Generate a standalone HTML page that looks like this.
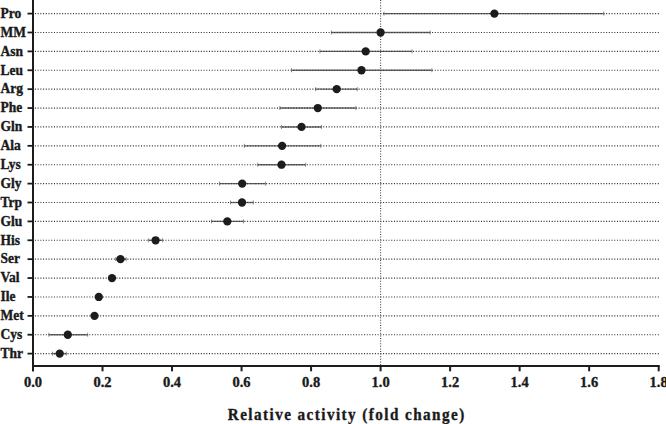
<!DOCTYPE html>
<html><head><meta charset="utf-8"><style>
html,body{margin:0;padding:0;background:#fff;width:666px;height:424px;overflow:hidden;}
svg{display:block;}
text{font-family:"Liberation Serif",serif;font-weight:bold;fill:#1a1a1a;stroke:#1a1a1a;stroke-width:0.35px;}
.yl{font-size:13.5px;}
.xl{font-size:14.5px;}
.tt{font-size:16.5px;letter-spacing:1.56px;}
</style></head><body>
<svg width="666" height="424" viewBox="0 0 666 424">
<line x1="384.00" y1="13.60" x2="603.80" y2="13.60" stroke="#6a6a6a" stroke-width="1.4"/>
<line x1="384.00" y1="11.60" x2="384.00" y2="15.60" stroke="#888" stroke-width="1"/>
<line x1="603.80" y1="11.60" x2="603.80" y2="15.60" stroke="#888" stroke-width="1"/>
<line x1="331.40" y1="32.49" x2="430.20" y2="32.49" stroke="#6a6a6a" stroke-width="1.4"/>
<line x1="331.40" y1="30.49" x2="331.40" y2="34.49" stroke="#888" stroke-width="1"/>
<line x1="430.20" y1="30.49" x2="430.20" y2="34.49" stroke="#888" stroke-width="1"/>
<line x1="319.90" y1="51.38" x2="412.00" y2="51.38" stroke="#6a6a6a" stroke-width="1.4"/>
<line x1="319.90" y1="49.38" x2="319.90" y2="53.38" stroke="#888" stroke-width="1"/>
<line x1="412.00" y1="49.38" x2="412.00" y2="53.38" stroke="#888" stroke-width="1"/>
<line x1="291.50" y1="70.27" x2="431.90" y2="70.27" stroke="#6a6a6a" stroke-width="1.4"/>
<line x1="291.50" y1="68.27" x2="291.50" y2="72.27" stroke="#888" stroke-width="1"/>
<line x1="431.90" y1="68.27" x2="431.90" y2="72.27" stroke="#888" stroke-width="1"/>
<line x1="315.70" y1="89.16" x2="357.30" y2="89.16" stroke="#6a6a6a" stroke-width="1.4"/>
<line x1="315.70" y1="87.16" x2="315.70" y2="91.16" stroke="#888" stroke-width="1"/>
<line x1="357.30" y1="87.16" x2="357.30" y2="91.16" stroke="#888" stroke-width="1"/>
<line x1="279.90" y1="108.05" x2="356.00" y2="108.05" stroke="#6a6a6a" stroke-width="1.4"/>
<line x1="279.90" y1="106.05" x2="279.90" y2="110.05" stroke="#888" stroke-width="1"/>
<line x1="356.00" y1="106.05" x2="356.00" y2="110.05" stroke="#888" stroke-width="1"/>
<line x1="281.50" y1="126.94" x2="321.40" y2="126.94" stroke="#6a6a6a" stroke-width="1.4"/>
<line x1="281.50" y1="124.94" x2="281.50" y2="128.94" stroke="#888" stroke-width="1"/>
<line x1="321.40" y1="124.94" x2="321.40" y2="128.94" stroke="#888" stroke-width="1"/>
<line x1="244.30" y1="145.83" x2="320.80" y2="145.83" stroke="#6a6a6a" stroke-width="1.4"/>
<line x1="244.30" y1="143.83" x2="244.30" y2="147.83" stroke="#888" stroke-width="1"/>
<line x1="320.80" y1="143.83" x2="320.80" y2="147.83" stroke="#888" stroke-width="1"/>
<line x1="257.70" y1="164.72" x2="305.70" y2="164.72" stroke="#6a6a6a" stroke-width="1.4"/>
<line x1="257.70" y1="162.72" x2="257.70" y2="166.72" stroke="#888" stroke-width="1"/>
<line x1="305.70" y1="162.72" x2="305.70" y2="166.72" stroke="#888" stroke-width="1"/>
<line x1="219.50" y1="183.61" x2="265.60" y2="183.61" stroke="#6a6a6a" stroke-width="1.4"/>
<line x1="219.50" y1="181.61" x2="219.50" y2="185.61" stroke="#888" stroke-width="1"/>
<line x1="265.60" y1="181.61" x2="265.60" y2="185.61" stroke="#888" stroke-width="1"/>
<line x1="230.50" y1="202.50" x2="253.20" y2="202.50" stroke="#6a6a6a" stroke-width="1.4"/>
<line x1="230.50" y1="200.50" x2="230.50" y2="204.50" stroke="#888" stroke-width="1"/>
<line x1="253.20" y1="200.50" x2="253.20" y2="204.50" stroke="#888" stroke-width="1"/>
<line x1="211.50" y1="221.39" x2="243.50" y2="221.39" stroke="#6a6a6a" stroke-width="1.4"/>
<line x1="211.50" y1="219.39" x2="211.50" y2="223.39" stroke="#888" stroke-width="1"/>
<line x1="243.50" y1="219.39" x2="243.50" y2="223.39" stroke="#888" stroke-width="1"/>
<line x1="148.30" y1="240.28" x2="162.60" y2="240.28" stroke="#6a6a6a" stroke-width="1.4"/>
<line x1="148.30" y1="238.28" x2="148.30" y2="242.28" stroke="#888" stroke-width="1"/>
<line x1="162.60" y1="238.28" x2="162.60" y2="242.28" stroke="#888" stroke-width="1"/>
<line x1="115.70" y1="259.17" x2="126.20" y2="259.17" stroke="#6a6a6a" stroke-width="1.4"/>
<line x1="115.70" y1="257.17" x2="115.70" y2="261.17" stroke="#888" stroke-width="1"/>
<line x1="126.20" y1="257.17" x2="126.20" y2="261.17" stroke="#888" stroke-width="1"/>
<line x1="109.50" y1="278.06" x2="114.50" y2="278.06" stroke="#6a6a6a" stroke-width="1.4"/>
<line x1="109.50" y1="276.06" x2="109.50" y2="280.06" stroke="#888" stroke-width="1"/>
<line x1="114.50" y1="276.06" x2="114.50" y2="280.06" stroke="#888" stroke-width="1"/>
<line x1="96.50" y1="296.95" x2="101.00" y2="296.95" stroke="#6a6a6a" stroke-width="1.4"/>
<line x1="96.50" y1="294.95" x2="96.50" y2="298.95" stroke="#888" stroke-width="1"/>
<line x1="101.00" y1="294.95" x2="101.00" y2="298.95" stroke="#888" stroke-width="1"/>
<line x1="92.50" y1="315.84" x2="96.50" y2="315.84" stroke="#6a6a6a" stroke-width="1.4"/>
<line x1="92.50" y1="313.84" x2="92.50" y2="317.84" stroke="#888" stroke-width="1"/>
<line x1="96.50" y1="313.84" x2="96.50" y2="317.84" stroke="#888" stroke-width="1"/>
<line x1="48.90" y1="334.73" x2="87.70" y2="334.73" stroke="#6a6a6a" stroke-width="1.4"/>
<line x1="48.90" y1="332.73" x2="48.90" y2="336.73" stroke="#888" stroke-width="1"/>
<line x1="87.70" y1="332.73" x2="87.70" y2="336.73" stroke="#888" stroke-width="1"/>
<line x1="52.50" y1="353.62" x2="66.40" y2="353.62" stroke="#6a6a6a" stroke-width="1.4"/>
<line x1="52.50" y1="351.62" x2="52.50" y2="355.62" stroke="#888" stroke-width="1"/>
<line x1="66.40" y1="351.62" x2="66.40" y2="355.62" stroke="#888" stroke-width="1"/>
<line x1="34.9" y1="13.60" x2="659.70" y2="13.60" stroke="#333" stroke-width="1.15" stroke-dasharray="1.05 1.67"/>
<line x1="34.9" y1="32.49" x2="659.70" y2="32.49" stroke="#333" stroke-width="1.15" stroke-dasharray="1.05 1.67"/>
<line x1="34.9" y1="51.38" x2="659.70" y2="51.38" stroke="#333" stroke-width="1.15" stroke-dasharray="1.05 1.67"/>
<line x1="34.9" y1="70.27" x2="659.70" y2="70.27" stroke="#333" stroke-width="1.15" stroke-dasharray="1.05 1.67"/>
<line x1="34.9" y1="89.16" x2="659.70" y2="89.16" stroke="#333" stroke-width="1.15" stroke-dasharray="1.05 1.67"/>
<line x1="34.9" y1="108.05" x2="659.70" y2="108.05" stroke="#333" stroke-width="1.15" stroke-dasharray="1.05 1.67"/>
<line x1="34.9" y1="126.94" x2="659.70" y2="126.94" stroke="#333" stroke-width="1.15" stroke-dasharray="1.05 1.67"/>
<line x1="34.9" y1="145.83" x2="659.70" y2="145.83" stroke="#333" stroke-width="1.15" stroke-dasharray="1.05 1.67"/>
<line x1="34.9" y1="164.72" x2="659.70" y2="164.72" stroke="#333" stroke-width="1.15" stroke-dasharray="1.05 1.67"/>
<line x1="34.9" y1="183.61" x2="659.70" y2="183.61" stroke="#333" stroke-width="1.15" stroke-dasharray="1.05 1.67"/>
<line x1="34.9" y1="202.50" x2="659.70" y2="202.50" stroke="#333" stroke-width="1.15" stroke-dasharray="1.05 1.67"/>
<line x1="34.9" y1="221.39" x2="659.70" y2="221.39" stroke="#333" stroke-width="1.15" stroke-dasharray="1.05 1.67"/>
<line x1="34.9" y1="240.28" x2="659.70" y2="240.28" stroke="#333" stroke-width="1.15" stroke-dasharray="1.05 1.67"/>
<line x1="34.9" y1="259.17" x2="659.70" y2="259.17" stroke="#333" stroke-width="1.15" stroke-dasharray="1.05 1.67"/>
<line x1="34.9" y1="278.06" x2="659.70" y2="278.06" stroke="#333" stroke-width="1.15" stroke-dasharray="1.05 1.67"/>
<line x1="34.9" y1="296.95" x2="659.70" y2="296.95" stroke="#333" stroke-width="1.15" stroke-dasharray="1.05 1.67"/>
<line x1="34.9" y1="315.84" x2="659.70" y2="315.84" stroke="#333" stroke-width="1.15" stroke-dasharray="1.05 1.67"/>
<line x1="34.9" y1="334.73" x2="659.70" y2="334.73" stroke="#333" stroke-width="1.15" stroke-dasharray="1.05 1.67"/>
<line x1="34.9" y1="353.62" x2="659.70" y2="353.62" stroke="#333" stroke-width="1.15" stroke-dasharray="1.05 1.67"/>
<line x1="380.60" y1="0" x2="380.60" y2="365.00" stroke="#444" stroke-width="1.1" stroke-dasharray="1 1.6"/>
<circle cx="494.40" cy="13.60" r="4.15" fill="#1c1c1c"/>
<circle cx="380.60" cy="32.49" r="4.15" fill="#1c1c1c"/>
<circle cx="365.70" cy="51.38" r="4.15" fill="#1c1c1c"/>
<circle cx="361.50" cy="70.27" r="4.15" fill="#1c1c1c"/>
<circle cx="336.70" cy="89.16" r="4.15" fill="#1c1c1c"/>
<circle cx="317.80" cy="108.05" r="4.15" fill="#1c1c1c"/>
<circle cx="301.50" cy="126.94" r="4.15" fill="#1c1c1c"/>
<circle cx="282.10" cy="145.83" r="4.15" fill="#1c1c1c"/>
<circle cx="281.50" cy="164.72" r="4.15" fill="#1c1c1c"/>
<circle cx="242.20" cy="183.61" r="4.15" fill="#1c1c1c"/>
<circle cx="242.00" cy="202.50" r="4.15" fill="#1c1c1c"/>
<circle cx="227.30" cy="221.39" r="4.15" fill="#1c1c1c"/>
<circle cx="155.60" cy="240.28" r="4.15" fill="#1c1c1c"/>
<circle cx="120.50" cy="259.17" r="4.15" fill="#1c1c1c"/>
<circle cx="112.00" cy="278.06" r="4.15" fill="#1c1c1c"/>
<circle cx="98.80" cy="296.95" r="4.15" fill="#1c1c1c"/>
<circle cx="94.50" cy="315.84" r="4.15" fill="#1c1c1c"/>
<circle cx="67.80" cy="334.73" r="4.15" fill="#1c1c1c"/>
<circle cx="59.70" cy="353.62" r="4.15" fill="#1c1c1c"/>
<line x1="33.00" y1="0" x2="33.00" y2="371.3" stroke="#1c1c1c" stroke-width="2"/>
<line x1="32.00" y1="366.00" x2="659.70" y2="366.00" stroke="#1c1c1c" stroke-width="2"/>
<line x1="27.5" y1="13.60" x2="33.00" y2="13.60" stroke="#1c1c1c" stroke-width="1.8"/>
<line x1="27.5" y1="32.49" x2="33.00" y2="32.49" stroke="#1c1c1c" stroke-width="1.8"/>
<line x1="27.5" y1="51.38" x2="33.00" y2="51.38" stroke="#1c1c1c" stroke-width="1.8"/>
<line x1="27.5" y1="70.27" x2="33.00" y2="70.27" stroke="#1c1c1c" stroke-width="1.8"/>
<line x1="27.5" y1="89.16" x2="33.00" y2="89.16" stroke="#1c1c1c" stroke-width="1.8"/>
<line x1="27.5" y1="108.05" x2="33.00" y2="108.05" stroke="#1c1c1c" stroke-width="1.8"/>
<line x1="27.5" y1="126.94" x2="33.00" y2="126.94" stroke="#1c1c1c" stroke-width="1.8"/>
<line x1="27.5" y1="145.83" x2="33.00" y2="145.83" stroke="#1c1c1c" stroke-width="1.8"/>
<line x1="27.5" y1="164.72" x2="33.00" y2="164.72" stroke="#1c1c1c" stroke-width="1.8"/>
<line x1="27.5" y1="183.61" x2="33.00" y2="183.61" stroke="#1c1c1c" stroke-width="1.8"/>
<line x1="27.5" y1="202.50" x2="33.00" y2="202.50" stroke="#1c1c1c" stroke-width="1.8"/>
<line x1="27.5" y1="221.39" x2="33.00" y2="221.39" stroke="#1c1c1c" stroke-width="1.8"/>
<line x1="27.5" y1="240.28" x2="33.00" y2="240.28" stroke="#1c1c1c" stroke-width="1.8"/>
<line x1="27.5" y1="259.17" x2="33.00" y2="259.17" stroke="#1c1c1c" stroke-width="1.8"/>
<line x1="27.5" y1="278.06" x2="33.00" y2="278.06" stroke="#1c1c1c" stroke-width="1.8"/>
<line x1="27.5" y1="296.95" x2="33.00" y2="296.95" stroke="#1c1c1c" stroke-width="1.8"/>
<line x1="27.5" y1="315.84" x2="33.00" y2="315.84" stroke="#1c1c1c" stroke-width="1.8"/>
<line x1="27.5" y1="334.73" x2="33.00" y2="334.73" stroke="#1c1c1c" stroke-width="1.8"/>
<line x1="27.5" y1="353.62" x2="33.00" y2="353.62" stroke="#1c1c1c" stroke-width="1.8"/>
<line x1="33.00" y1="366.00" x2="33.00" y2="371.3" stroke="#1c1c1c" stroke-width="2"/>
<line x1="102.52" y1="366.00" x2="102.52" y2="371.3" stroke="#1c1c1c" stroke-width="2"/>
<line x1="172.04" y1="366.00" x2="172.04" y2="371.3" stroke="#1c1c1c" stroke-width="2"/>
<line x1="241.56" y1="366.00" x2="241.56" y2="371.3" stroke="#1c1c1c" stroke-width="2"/>
<line x1="311.08" y1="366.00" x2="311.08" y2="371.3" stroke="#1c1c1c" stroke-width="2"/>
<line x1="380.60" y1="366.00" x2="380.60" y2="371.3" stroke="#1c1c1c" stroke-width="2"/>
<line x1="450.12" y1="366.00" x2="450.12" y2="371.3" stroke="#1c1c1c" stroke-width="2"/>
<line x1="519.64" y1="366.00" x2="519.64" y2="371.3" stroke="#1c1c1c" stroke-width="2"/>
<line x1="589.16" y1="366.00" x2="589.16" y2="371.3" stroke="#1c1c1c" stroke-width="2"/>
<line x1="658.70" y1="366.00" x2="658.70" y2="371.3" stroke="#1c1c1c" stroke-width="2"/>
<text transform="translate(0.5,17.90) scale(1,1.06)" class="yl">Pro</text>
<text transform="translate(0.5,36.79) scale(1,1.06)" class="yl">MM</text>
<text transform="translate(0.5,55.68) scale(1,1.06)" class="yl">Asn</text>
<text transform="translate(0.5,74.57) scale(1,1.06)" class="yl">Leu</text>
<text transform="translate(0.5,93.46) scale(1,1.06)" class="yl">Arg</text>
<text transform="translate(0.5,112.35) scale(1,1.06)" class="yl">Phe</text>
<text transform="translate(0.5,131.24) scale(1,1.06)" class="yl">Gln</text>
<text transform="translate(0.5,150.13) scale(1,1.06)" class="yl">Ala</text>
<text transform="translate(0.5,169.02) scale(1,1.06)" class="yl">Lys</text>
<text transform="translate(0.5,187.91) scale(1,1.06)" class="yl">Gly</text>
<text transform="translate(0.5,206.80) scale(1,1.06)" class="yl">Trp</text>
<text transform="translate(0.5,225.69) scale(1,1.06)" class="yl">Glu</text>
<text transform="translate(0.5,244.58) scale(1,1.06)" class="yl">His</text>
<text transform="translate(0.5,263.47) scale(1,1.06)" class="yl">Ser</text>
<text transform="translate(0.5,282.36) scale(1,1.06)" class="yl">Val</text>
<text transform="translate(0.5,301.25) scale(1,1.06)" class="yl">Ile</text>
<text transform="translate(0.5,320.14) scale(1,1.06)" class="yl">Met</text>
<text transform="translate(0.5,339.03) scale(1,1.06)" class="yl">Cys</text>
<text transform="translate(0.5,357.92) scale(1,1.06)" class="yl">Thr</text>
<text x="33.00" y="387" class="xl" text-anchor="middle">0.0</text>
<text x="102.52" y="387" class="xl" text-anchor="middle">0.2</text>
<text x="172.04" y="387" class="xl" text-anchor="middle">0.4</text>
<text x="241.56" y="387" class="xl" text-anchor="middle">0.6</text>
<text x="311.08" y="387" class="xl" text-anchor="middle">0.8</text>
<text x="380.60" y="387" class="xl" text-anchor="middle">1.0</text>
<text x="450.12" y="387" class="xl" text-anchor="middle">1.2</text>
<text x="519.64" y="387" class="xl" text-anchor="middle">1.4</text>
<text x="589.16" y="387" class="xl" text-anchor="middle">1.6</text>
<text x="658.68" y="387" class="xl" text-anchor="middle">1.8</text>
<text transform="translate(227.8,420.4) scale(0.92,1.0)" class="tt">Relative activity (fold change)</text>
</svg>
</body></html>
